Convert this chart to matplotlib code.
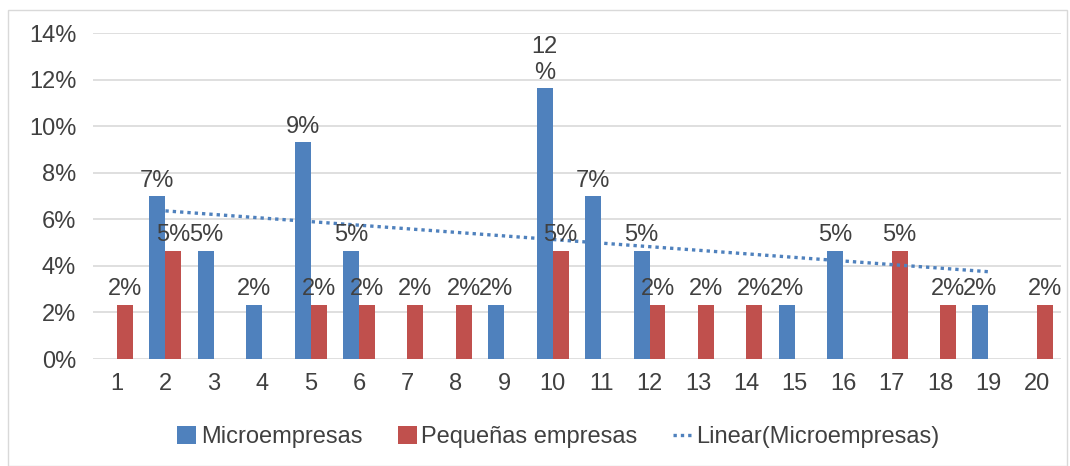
import matplotlib.pyplot as plt
import numpy as np
from matplotlib.patches import Patch, Rectangle
from matplotlib.lines import Line2D
from matplotlib.ticker import FuncFormatter

plt.rcParams["font.family"] = ["Liberation Sans", "DejaVu Sans"]

CATEGORIES = list(range(1, 21))
# percentages (None = no value for that category)
MICRO = [None, 6.98, 4.65, 2.33, 9.30, 4.65, None, None, 2.33, 11.63,
         6.98, 4.65, None, None, 2.33, 4.65, None, None, 2.33, None]
PEQUENAS = [2.33, 4.65, None, None, 2.33, 2.33, 2.33, 2.33, None, 4.65,
            None, 2.33, 2.33, 2.33, None, None, 4.65, 2.33, None, 2.33]
MICRO_LABELS = [None, "7%", "5%", "2%", "9%", "5%", None, None, "2%", "12\n%",
                "7%", "5%", None, None, "2%", "5%", None, None, "2%", None]
PEQ_LABELS = ["2%", "5%", None, None, "2%", "2%", "2%", "2%", None, "5%",
              None, "2%", "2%", "2%", None, None, "5%", "2%", None, "2%"]

BLUE = "#4F81BD"
RED = "#C0504D"
TEXT = "#404040"
FS = 17


def main() -> None:
    fig = plt.figure(figsize=(10.7, 4.66), dpi=100, facecolor="white")
    ax = fig.add_axes([92.8 / 1070, 1 - 359 / 466, (1061 - 92.8) / 1070, (359 - 33) / 466])

    x = np.arange(len(CATEGORIES))
    w = 0.33
    mv = np.array([v if v is not None else 0 for v in MICRO])
    pv = np.array([v if v is not None else 0 for v in PEQUENAS])
    ax.bar(x - w / 2, mv, width=w, color=BLUE, zorder=2)
    ax.bar(x + w / 2, pv, width=w, color=RED, zorder=2)

    for i in range(len(CATEGORIES)):
        if MICRO_LABELS[i]:
            ax.text(x[i] - w / 2, mv[i] + 0.2, MICRO_LABELS[i], ha="center", va="bottom",
                    fontsize=FS, color=TEXT, linespacing=1.2, zorder=4)
        if PEQ_LABELS[i]:
            ax.text(x[i] + w / 2, pv[i] + 0.2, PEQ_LABELS[i], ha="center", va="bottom",
                    fontsize=FS, color=TEXT, zorder=4)

    # linear trendline over non-empty micro values
    idx = np.array([i for i, v in enumerate(MICRO) if v is not None])
    yv = np.array([MICRO[i] for i in idx])
    xs = np.array(CATEGORIES)[idx]
    k, b = np.polyfit(xs, yv, 1)
    tx = np.array([xs.min(), xs.max()])
    ax.plot(tx - 1, k * tx + b, color=BLUE, linestyle=(0, (1, 1.2)), linewidth=2.4, zorder=3)

    ax.set_ylim(0, 14)
    ax.set_xlim(-0.5, len(CATEGORIES) - 0.5)
    ax.set_yticks(np.arange(0, 15, 2))
    ax.yaxis.set_major_formatter(FuncFormatter(lambda v, p: f"{v:.0f}%"))
    ax.set_xticks(x, [str(c) for c in CATEGORIES])
    ax.tick_params(length=0, labelsize=FS, colors=TEXT, pad=10)
    ax.tick_params(axis="y", pad=12)
    ax.grid(axis="y", color="#d9d9d9", linewidth=1.2, zorder=0)
    ax.set_axisbelow(True)
    for s in ax.spines.values():
        s.set_visible(False)

    handles = [
        Patch(facecolor=BLUE, label="Microempresas"),
        Patch(facecolor=RED, label="Pequeñas empresas"),
        Line2D([0], [0], color=BLUE, linestyle=(0, (1, 1.2)), linewidth=2.4,
               label="Linear(Microempresas)"),
    ]
    fig.legend(handles=handles, loc="center", bbox_to_anchor=(0.522, 1 - 437 / 466), ncol=3,
               frameon=False, fontsize=FS, handlelength=0.8, handleheight=0.8,
               handletextpad=0.2, columnspacing=1.5, labelcolor=TEXT)

    fig.patches.append(Rectangle((8 / 1070, 0), 1 - 8 / 1070 - 0.003, 1 - 10 / 466,
                                 transform=fig.transFigure, fill=False,
                                 edgecolor="#d9d9d9", linewidth=1))

    fig.savefig("out.png", dpi=100, facecolor="white")
    plt.close(fig)


if __name__ == "__main__":
    main()
